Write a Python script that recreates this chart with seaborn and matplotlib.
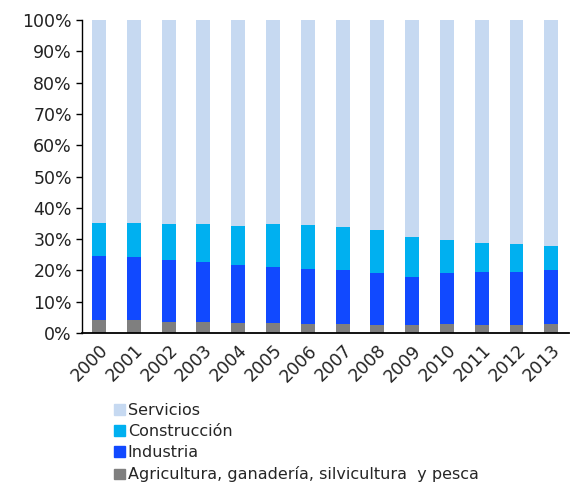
import pandas as pd
import seaborn as sns
import numpy as np
import matplotlib.pyplot as plt
from matplotlib.patches import Patch

anios = [str(a) for a in range(2000, 2014)]
agricultura = [4.2, 4.2, 3.7, 3.7, 3.2, 3.2, 2.9, 2.9, 2.5, 2.5, 2.9, 2.5, 2.5, 2.9]
industria = [20.5, 20.1, 19.7, 19.1, 18.7, 17.9, 17.6, 17.3, 16.8, 15.4, 16.4, 17.1, 17.1, 17.3]
construccion = [10.4, 10.8, 11.4, 12.0, 12.4, 13.7, 13.9, 13.7, 13.6, 12.8, 10.4, 9.2, 8.8, 7.6]
servicios = [64.9, 64.9, 65.2, 65.2, 65.7, 65.2, 65.6, 66.1, 67.1, 69.3, 70.3, 71.2, 71.6, 72.2]

sectores = ["Agricultura, ganadería, silvicultura  y pesca", "Industria", "Construcción", "Servicios"]
colores = ["#7f7f7f", "#1149ff", "#00b0f0", "#c6d9f1"]

data = pd.DataFrame({
    "anio": anios,
    sectores[0]: agricultura,
    sectores[1]: industria,
    sectores[2]: construccion,
    sectores[3]: servicios,
})

sns.set_style("white")
plt.rcParams["font.family"] = ["DejaVu Sans"]

fig = plt.figure(figsize=(5.71, 4.87), dpi=100)
ax = fig.add_axes([0.143, 0.316, 0.853, 0.643])

# barras apiladas, cada sector encima del anterior
base = np.zeros(len(anios))
for sector, color in zip(sectores, colores):
    sns.barplot(data=data, x="anio", y=sector, color=color, bottom=base,
                width=0.4, saturation=1, ax=ax, linewidth=0)
    base = base + data[sector].values

ax.set_ylim(0, 100)
ax.set_xlim(-0.5, len(anios) - 0.5)
ax.set_yticks(range(0, 101, 10))
ax.set_yticklabels([f"{v}%" for v in range(0, 101, 10)], fontsize=12.5, color="#222222")
ax.set_xticks(range(len(anios)))
ax.set_xticklabels(anios, rotation=45, ha="right", rotation_mode="anchor", fontsize=12.5, color="#222222")
ax.set_xlabel("")
ax.set_ylabel("")
ax.tick_params(axis="y", direction="out", length=4, width=1, color="black", pad=3, left=True)
ax.tick_params(axis="x", length=0, pad=6)
sns.despine(ax=ax, top=True, right=True)
ax.spines["left"].set_color("black")
ax.spines["bottom"].set_color("black")
ax.spines["left"].set_linewidth(1)
ax.spines["bottom"].set_linewidth(1.3)

handles = [Patch(color=c, label=s) for s, c in zip(sectores[::-1], colores[::-1])]
fig.legend(handles=handles, loc="upper left", bbox_to_anchor=(0.2, 0.172), frameon=False,
           fontsize=11.5, handlelength=0.65, handleheight=0.65, handletextpad=0.2,
           labelspacing=0.38, borderaxespad=0, borderpad=0)

fig.savefig("out.png", dpi=100)
